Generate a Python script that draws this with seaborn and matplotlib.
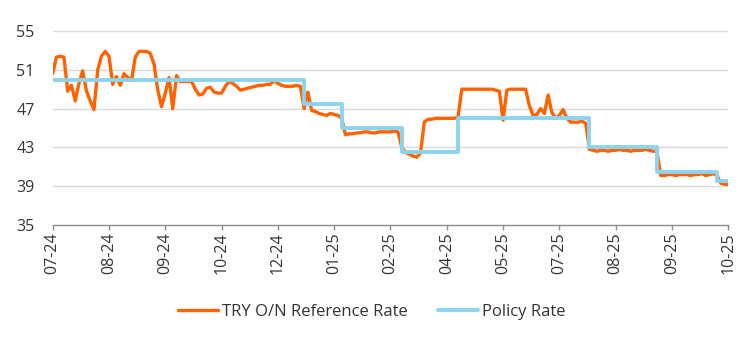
import matplotlib
matplotlib.use("Agg")
import matplotlib.pyplot as plt
import seaborn as sns
import numpy as np
import pandas as pd

# TRY overnight reference rate (one reading per point along the category axis)
reference_rate = [
    50.6, 52.3, 52.4, 52.3, 48.8, 49.4, 47.8, 49.6, 50.9, 48.8,
    47.8, 46.9, 51.0, 52.4, 52.9, 52.4, 49.5, 50.3, 49.4, 50.6,
    50.2, 49.9, 52.3, 52.9, 52.9, 52.9, 52.7, 51.6, 48.9, 47.2,
    48.6, 50.2, 47.0, 50.4, 49.8, 49.8, 49.8, 49.8, 49.0, 48.4,
    48.5, 49.1, 49.2, 48.7, 48.6, 48.6, 49.3, 49.8, 49.6, 49.3,
    48.9, 49.0, 49.1, 49.2, 49.3, 49.4, 49.4, 49.5, 49.5, 49.9,
    49.6, 49.4, 49.3, 49.3, 49.3, 49.4, 49.3, 47.0, 48.7, 46.8,
    46.7, 46.5, 46.4, 46.3, 46.5, 46.4, 46.3, 46.0, 44.3, 44.4,
    44.4, 44.5, 44.5, 44.6, 44.6, 44.5, 44.5, 44.6, 44.6, 44.6,
    44.6, 44.7, 44.6, 43.0, 42.5, 42.3, 42.1, 42.0, 42.4, 45.6,
    45.9, 45.9, 46.0, 46.0, 46.0, 46.0, 46.0, 46.0, 46.1, 49.0,
    49.0, 49.0, 49.0, 49.0, 49.0, 49.0, 49.0, 49.0, 48.9, 48.8,
    45.8, 48.9, 49.0, 49.0, 49.0, 49.0, 49.0, 47.3, 46.3, 46.4,
    47.0, 46.5, 48.4, 46.6, 46.0, 46.3, 46.9, 46.0, 45.6, 45.6,
    45.6, 45.7, 45.5, 42.8, 42.7, 42.6, 42.7, 42.7, 42.6, 42.7,
    42.7, 42.8, 42.7, 42.7, 42.6, 42.7, 42.7, 42.7, 42.8, 42.7,
    42.6, 42.6, 40.1, 40.1, 40.2, 40.2, 40.1, 40.2, 40.2, 40.2,
    40.1, 40.2, 40.2, 40.3, 40.1, 40.2, 40.3, 40.1, 39.3, 39.2,
    39.2,
]

# CBRT policy rate at the same points
policy_rate = [
    50.0, 50.0, 50.0, 50.0, 50.0, 50.0, 50.0, 50.0, 50.0, 50.0,
    50.0, 50.0, 50.0, 50.0, 50.0, 50.0, 50.0, 50.0, 50.0, 50.0,
    50.0, 50.0, 50.0, 50.0, 50.0, 50.0, 50.0, 50.0, 50.0, 50.0,
    50.0, 50.0, 50.0, 50.0, 50.0, 50.0, 50.0, 50.0, 50.0, 50.0,
    50.0, 50.0, 50.0, 50.0, 50.0, 50.0, 50.0, 50.0, 50.0, 50.0,
    50.0, 50.0, 50.0, 50.0, 50.0, 50.0, 50.0, 50.0, 50.0, 50.0,
    50.0, 50.0, 50.0, 50.0, 50.0, 50.0, 50.0, 47.5, 47.5, 47.5,
    47.5, 47.5, 47.5, 47.5, 47.5, 47.5, 47.5, 45.0, 45.0, 45.0,
    45.0, 45.0, 45.0, 45.0, 45.0, 45.0, 45.0, 45.0, 45.0, 45.0,
    45.0, 45.0, 45.0, 42.5, 42.5, 42.5, 42.5, 42.5, 42.5, 42.5,
    42.5, 42.5, 42.5, 42.5, 42.5, 42.5, 42.5, 42.5, 46.0, 46.0,
    46.0, 46.0, 46.0, 46.0, 46.0, 46.0, 46.0, 46.0, 46.0, 46.0,
    46.0, 46.0, 46.0, 46.0, 46.0, 46.0, 46.0, 46.0, 46.0, 46.0,
    46.0, 46.0, 46.0, 46.0, 46.0, 46.0, 46.0, 46.0, 46.0, 46.0,
    46.0, 46.0, 46.0, 43.0, 43.0, 43.0, 43.0, 43.0, 43.0, 43.0,
    43.0, 43.0, 43.0, 43.0, 43.0, 43.0, 43.0, 43.0, 43.0, 43.0,
    43.0, 40.5, 40.5, 40.5, 40.5, 40.5, 40.5, 40.5, 40.5, 40.5,
    40.5, 40.5, 40.5, 40.5, 40.5, 40.5, 40.5, 39.5, 39.5, 39.5,
    39.5,
]

tick_labels = ["07-24", "08-24", "09-24", "10-24", "12-24", "01-25", "02-25",
               "04-25", "05-25", "07-25", "08-25", "09-25", "10-25"]
y_ticks = [35, 39, 43, 47, 51, 55]

series_names = ["TRY O/N Reference Rate", "Policy Rate"]
ORANGE = "#FF6200"
BLUE = "#8BD3EF"

n = len(reference_rate)
idx = np.arange(n)
df_ref = pd.DataFrame({"i": idx, "v": reference_rate})
df_pol = pd.DataFrame({"i": idx, "v": policy_rate})

sns.set_style("white")
plt.rcParams["font.family"] = ["Open Sans", "DejaVu Sans"]

fig = plt.figure(figsize=(7.42, 3.43), dpi=100)
ax = fig.add_axes([0.071, 0.344, 0.9105, 0.5656])

sns.lineplot(data=df_ref, x="i", y="v", ax=ax, color=ORANGE, linewidth=2.4,
             label=series_names[0], zorder=3, solid_joinstyle="round",
             solid_capstyle="round")
sns.lineplot(data=df_pol, x="i", y="v", ax=ax, color=BLUE, linewidth=2.8,
             drawstyle="steps-post", label=series_names[1], zorder=4)

ax.set_xlim(0, n - 1)
ax.set_ylim(35, 55)
ax.set_yticks(y_ticks)
ax.set_yticklabels([str(t) for t in y_ticks])
ax.set_xticks(np.linspace(0, n - 1, len(tick_labels)))
ax.set_xticklabels(tick_labels, rotation=90)
ax.set_xlabel("")
ax.set_ylabel("")

for t in y_ticks[1:]:
    ax.axhline(t, color="#d9d9d9", linewidth=1.0, zorder=1)

for s in ["top", "right", "left"]:
    ax.spines[s].set_visible(False)
ax.spines["bottom"].set_color("#8c8c8c")
ax.spines["bottom"].set_linewidth(1.0)

ax.tick_params(axis="y", length=0, pad=13, labelsize=11.5, labelcolor="#333333")
ax.tick_params(axis="x", length=3.6, width=1, color="#8c8c8c", pad=2,
               labelsize=11.5, labelcolor="#333333", bottom=True)

handles, labels = ax.get_legend_handles_labels()
ax.get_legend().remove()
fig.legend(handles, labels, loc="center", bbox_to_anchor=(0.501, 0.09),
           ncol=2, frameon=False, fontsize=12, handlelength=2.4,
           handletextpad=0.25, columnspacing=1.8, labelcolor="#333333")

fig.savefig("out.png", dpi=100)
